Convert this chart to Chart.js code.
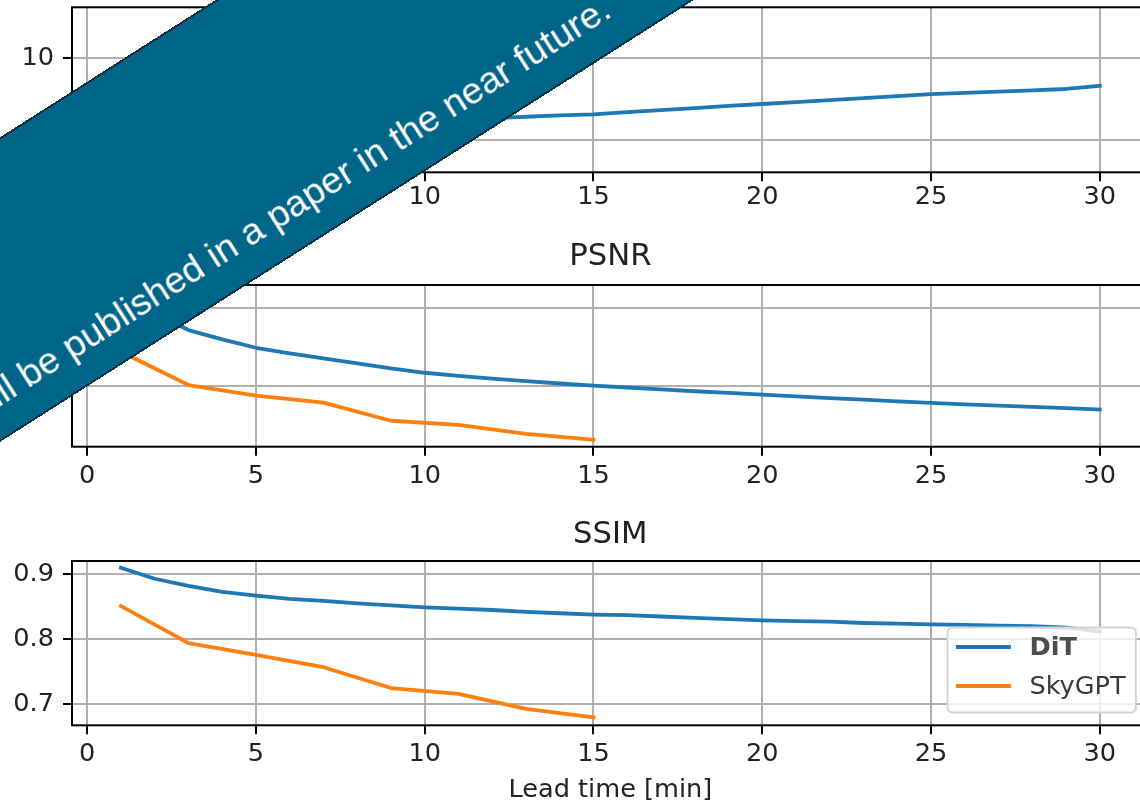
<!DOCTYPE html>
<html>
<head>
<meta charset="utf-8">
<script src="https://cdn.jsdelivr.net/npm/chart.js@4.4.0/dist/chart.umd.min.js"></script>
<style>
html,body{margin:0;padding:0;background:#fff;}
#wrap{position:relative;width:1140px;height:804px;overflow:hidden;background:#fff;}
#wrap canvas{position:absolute;left:0;}
#ribbon{position:absolute;width:1600px;height:257px;left:-500px;top:-30.5px;transform:rotate(-32.5deg);
  background:#006689;border-top:2px solid #0e2f40;border-bottom:2px solid #0e2f40;box-sizing:border-box;}
#ribbon span{position:absolute;right:491px;top:194px;font-family:"Liberation Sans",Arial,sans-serif;
  font-size:37.5px;line-height:37.5px;color:#fff;white-space:nowrap;}
</style>
</head>
<body>
<div id="wrap">
  <canvas id="c1" width="1160" height="215" style="top:0px"></canvas>
  <canvas id="c2" width="1160" height="275" style="top:215px"></canvas>
  <canvas id="c3" width="1160" height="314" style="top:490px"></canvas>
  <div id="ribbon"><span>These results will be published in a paper in the near future.</span></div>
</div>
<script>
// ---------------- data ----------------
const seriesNames = ['DiT', 'SkyGPT'];
const leadDiT = [1,2,3,4,5,6,7,8,9,10,11,12,13,14,15,16,17,18,19,20,21,22,23,24,25,26,27,28,29,30];
const leadSky = [1,3,5,7,9,11,13,15];

const errDiT = [3.48,4.30,4.80,5.15,5.40,5.60,5.78,5.92,6.05,6.15,6.25,6.34,6.42,6.50,6.57,
                6.70,6.82,6.95,7.08,7.20,7.32,7.44,7.56,7.68,7.80,7.88,7.96,8.04,8.12,8.32];
const errSky = [5.2,7.5,8.6,9.4,10.8,11.3,12.1,12.66];

const psnrDiT = [26.0,24.7,23.6,23.0,22.46,22.1,21.78,21.46,21.13,20.85,20.65,20.47,20.31,20.16,20.02,
                 19.9,19.78,19.66,19.55,19.44,19.33,19.22,19.12,19.01,18.91,18.82,18.74,18.65,18.57,18.48];
const psnrSky = [22.2,20.06,19.38,18.93,17.76,17.5,16.92,16.54];

const ssimDiT = [0.910,0.893,0.882,0.873,0.867,0.862,0.859,0.855,0.852,0.849,0.847,0.845,0.842,0.840,0.838,
                 0.837,0.835,0.833,0.831,0.829,0.828,0.827,0.825,0.824,0.823,0.822,0.821,0.820,0.818,0.812];
const ssimSky = [0.851,0.794,0.776,0.757,0.725,0.716,0.693,0.680];

const xTicks = [0,5,10,15,20,25,30];
const errTicks = [5,10];
const psnrTicks = [20,25];
const ssimTicks = [0.7,0.8,0.9];
const panelTitles = ['', 'PSNR', 'SSIM'];
const xAxisTitle = 'Lead time [min]';

// ---------------- helpers ----------------
const COLORS = ['#1f77b4', '#ff7f0e'];
const FONT = 'DejaVu Sans';
const FS = 25.6;
function pts(xs, ys){ return xs.map((x,i)=>({x:x, y:ys[i]})); }

const framePlugin = {
  id:'frame',
  afterDatasetsDraw(chart){
    const {ctx, chartArea:a} = chart;
    ctx.save();
    ctx.strokeStyle = '#000'; ctx.lineWidth = 2;
    ctx.strokeRect(a.left, a.top, a.right - a.left, a.bottom - a.top);
    ctx.restore();
  }
};

const boxLegendPlugin = {
  id:'boxLegend',
  afterDraw(chart, args, o){
    if (!o.show) return;
    const ctx = chart.ctx, a = chart.chartArea;
    const ds = chart.data.datasets;
    const bp = 0.4*FS, hl = 2*FS, htp = 0.8*FS, pad = 0.5*FS;
    ctx.save();
    let tw = 0;
    ds.forEach((d,i)=>{ ctx.font = (i===0?'bold ':'') + FS + 'px "' + FONT + '"'; tw = Math.max(tw, ctx.measureText(d.label).width); });
    const w = 2*bp + hl + htp + tw, h = 85;
    const right = a.right - pad, bottom = a.bottom - pad;
    const left = right - w, top = bottom - h;
    ctx.beginPath();
    ctx.roundRect(left, top, w, h, 5);
    ctx.fillStyle = 'rgba(255,255,255,0.8)'; ctx.fill();
    ctx.strokeStyle = '#d4d4d4'; ctx.lineWidth = 2; ctx.stroke();
    const rows = [top + 19.5, top + 58.5];
    ds.forEach((d,i)=>{
      const y = rows[i];
      ctx.beginPath();
      ctx.strokeStyle = d.borderColor; ctx.lineWidth = 3.8; ctx.lineCap = 'square';
      ctx.moveTo(left + bp, y); ctx.lineTo(left + bp + hl, y); ctx.stroke();
      ctx.font = (i===0?'bold ':'') + FS + 'px "' + FONT + '"';
      ctx.fillStyle = i===0 ? '#4d4d4d' : '#3a3a3a';
      ctx.textBaseline = 'middle'; ctx.textAlign = 'left';
      ctx.fillText(d.label, left + bp + hl + htp, y + 1);
    });
    ctx.restore();
  }
};

function makePanel(id, cfg){
  const gridOpts = { color:'#b0b0b0', lineWidth:2, tickColor:'#000', tickWidth:2, tickLength:9, drawTicks:true };
  const tickFont = { family:FONT, size:FS, lineHeight:1 };
  return new Chart(document.getElementById(id), {
    type:'line',
    data:{
      datasets:[
        { label:seriesNames[0], data:pts(leadDiT, cfg.dit), borderColor:COLORS[0], backgroundColor:COLORS[0], order:1 },
        { label:seriesNames[1], data:pts(leadSky, cfg.sky), borderColor:COLORS[1], backgroundColor:COLORS[1], order:0 }
      ]
    },
    options:{
      responsive:false, animation:false, events:[],
      elements:{ line:{ borderWidth:3.8, tension:0, fill:false, borderCapStyle:'square', borderJoinStyle:'round' }, point:{ radius:0 } },
      layout:{ autoPadding:false, padding:{ top:cfg.padTop, left:0, right:11.3, bottom:0 } },
      scales:{
        x:{ type:'linear', min:-0.45, max:31.45,
            afterBuildTicks:s=>{ s.ticks = xTicks.map(v=>({value:v})); },
            afterFit:s=>{ s.height = cfg.xH; s.paddingLeft = 0; s.paddingRight = 0; },
            grid:gridOpts, border:{display:false},
            ticks:{ font:tickFont, color:'#222', padding:cfg.xPad, maxRotation:0, autoSkip:false, callback:v=>String(v) },
            title:{ display:!!cfg.xTitle, text:cfg.xTitle||'', font:{family:FONT, size:FS, lineHeight:1}, color:'#222', padding:{top:4, bottom:0.9} }
        },
        y:{ type:'linear', min:cfg.yMin, max:cfg.yMax,
            afterBuildTicks:s=>{ s.ticks = cfg.yTicks.map(v=>({value:v})); },
            afterFit:s=>{ s.width = 72; s.paddingTop = 0; s.paddingBottom = 0; },
            grid:gridOpts, border:{display:false},
            ticks:{ font:tickFont, color:'#222', padding:9, callback:v=>String(Number(v.toFixed(2))) }
        }
      },
      plugins:{
        legend:{display:false}, tooltip:{enabled:false},
        title:{ display:!!cfg.title, text:cfg.title, color:'#222', fullSize:false,
                font:{family:FONT, size:30.7, lineHeight:1, weight:'normal'},
                padding:{ top:cfg.tTop||0, bottom:cfg.tBot||0 } },
        boxLegend:{ show:!!cfg.legend }
      }
    },
    plugins:[framePlugin, boxLegendPlugin]
  });
}

makePanel('c1', { dit:errDiT, sky:errSky, yMin:3.02, yMax:13.12, yTicks:errTicks,
  padTop:7.3, xH:42.7, xPad:3.4, title:panelTitles[0] });
makePanel('c2', { dit:psnrDiT, sky:psnrSky, yMin:16.09, yMax:26.50, yTicks:psnrTicks,
  padTop:0, xH:43.3, xPad:8, title:panelTitles[1], tTop:26.65, tBot:12.65 });
makePanel('c3', { dit:ssimDiT, sky:ssimSky, yMin:0.6677, yMax:0.9203, yTicks:ssimTicks,
  padTop:0, xH:78.7, xPad:6.9, title:panelTitles[2], tTop:29.35, tBot:10.95, xTitle:xAxisTitle, legend:true });
</script>
</body>
</html>
